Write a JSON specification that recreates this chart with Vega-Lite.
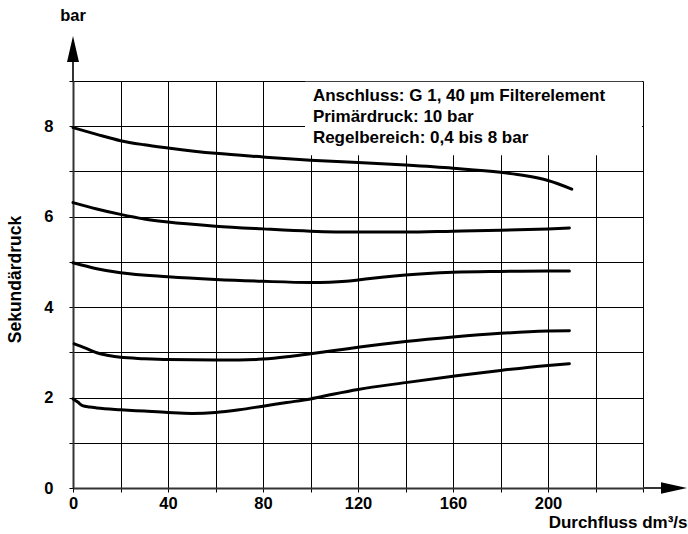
{
  "$schema": "https://vega.github.io/schema/vega-lite/v6.json",
  "width": 570,
  "height": 407,
  "autosize": "none",
  "padding": {"left": 73, "top": 81, "right": 45, "bottom": 46},
  "background": "white",
  "view": {"stroke": null},
  "config": {
    "font": "Liberation Sans",
    "axis": {
      "labelFont": "Liberation Sans",
      "labelFontWeight": "bold",
      "labelFontSize": 16.5,
      "labelColor": "black",
      "labelFlush": false,
      "titleFont": "Liberation Sans",
      "titleFontWeight": "bold",
      "titleFontSize": 17,
      "titleColor": "black",
      "gridColor": "#000",
      "gridOpacity": 1,
      "gridWidth": 1,
      "domainColor": "#333",
      "domainWidth": 2,
      "tickColor": "#000",
      "tickWidth": 1
    }
  },
  "datasets": {
    "curves": [
      {"series": "8", "x": 0, "y": 7.97},
      {"series": "8", "x": 10, "y": 7.82},
      {"series": "8", "x": 20, "y": 7.68},
      {"series": "8", "x": 30, "y": 7.59},
      {"series": "8", "x": 40, "y": 7.52},
      {"series": "8", "x": 60, "y": 7.40},
      {"series": "8", "x": 80, "y": 7.32},
      {"series": "8", "x": 100, "y": 7.25},
      {"series": "8", "x": 120, "y": 7.20},
      {"series": "8", "x": 140, "y": 7.14},
      {"series": "8", "x": 160, "y": 7.07},
      {"series": "8", "x": 180, "y": 6.98},
      {"series": "8", "x": 190, "y": 6.91},
      {"series": "8", "x": 200, "y": 6.80},
      {"series": "8", "x": 210, "y": 6.61},
      {"series": "6", "x": 0, "y": 6.31},
      {"series": "6", "x": 10, "y": 6.17},
      {"series": "6", "x": 20, "y": 6.05},
      {"series": "6", "x": 30, "y": 5.95},
      {"series": "6", "x": 40, "y": 5.88},
      {"series": "6", "x": 60, "y": 5.79},
      {"series": "6", "x": 80, "y": 5.73},
      {"series": "6", "x": 100, "y": 5.68},
      {"series": "6", "x": 120, "y": 5.66},
      {"series": "6", "x": 140, "y": 5.66},
      {"series": "6", "x": 160, "y": 5.68},
      {"series": "6", "x": 180, "y": 5.70},
      {"series": "6", "x": 200, "y": 5.73},
      {"series": "6", "x": 209, "y": 5.75},
      {"series": "5", "x": 0, "y": 4.98},
      {"series": "5", "x": 10, "y": 4.85},
      {"series": "5", "x": 20, "y": 4.76},
      {"series": "5", "x": 40, "y": 4.67},
      {"series": "5", "x": 60, "y": 4.61},
      {"series": "5", "x": 80, "y": 4.57},
      {"series": "5", "x": 100, "y": 4.545},
      {"series": "5", "x": 108, "y": 4.55},
      {"series": "5", "x": 115, "y": 4.57},
      {"series": "5", "x": 120, "y": 4.60},
      {"series": "5", "x": 130, "y": 4.66},
      {"series": "5", "x": 140, "y": 4.71},
      {"series": "5", "x": 160, "y": 4.77},
      {"series": "5", "x": 180, "y": 4.79},
      {"series": "5", "x": 200, "y": 4.80},
      {"series": "5", "x": 209, "y": 4.80},
      {"series": "3", "x": 0.5, "y": 3.19},
      {"series": "3", "x": 5, "y": 3.10},
      {"series": "3", "x": 10, "y": 2.99},
      {"series": "3", "x": 15, "y": 2.93},
      {"series": "3", "x": 20, "y": 2.89},
      {"series": "3", "x": 30, "y": 2.86},
      {"series": "3", "x": 40, "y": 2.84},
      {"series": "3", "x": 60, "y": 2.83},
      {"series": "3", "x": 70, "y": 2.83},
      {"series": "3", "x": 80, "y": 2.85},
      {"series": "3", "x": 90, "y": 2.90},
      {"series": "3", "x": 100, "y": 2.97},
      {"series": "3", "x": 110, "y": 3.04},
      {"series": "3", "x": 120, "y": 3.11},
      {"series": "3", "x": 130, "y": 3.18},
      {"series": "3", "x": 140, "y": 3.24},
      {"series": "3", "x": 160, "y": 3.34},
      {"series": "3", "x": 180, "y": 3.42},
      {"series": "3", "x": 200, "y": 3.47},
      {"series": "3", "x": 209, "y": 3.48},
      {"series": "2", "x": 0, "y": 1.97},
      {"series": "2", "x": 2, "y": 1.90},
      {"series": "2", "x": 4, "y": 1.82},
      {"series": "2", "x": 7, "y": 1.79},
      {"series": "2", "x": 10, "y": 1.77},
      {"series": "2", "x": 20, "y": 1.73},
      {"series": "2", "x": 30, "y": 1.70},
      {"series": "2", "x": 40, "y": 1.67},
      {"series": "2", "x": 50, "y": 1.65},
      {"series": "2", "x": 60, "y": 1.67},
      {"series": "2", "x": 70, "y": 1.73},
      {"series": "2", "x": 80, "y": 1.81},
      {"series": "2", "x": 90, "y": 1.89},
      {"series": "2", "x": 100, "y": 1.97},
      {"series": "2", "x": 110, "y": 2.08},
      {"series": "2", "x": 120, "y": 2.18},
      {"series": "2", "x": 140, "y": 2.33},
      {"series": "2", "x": 160, "y": 2.47},
      {"series": "2", "x": 180, "y": 2.60},
      {"series": "2", "x": 200, "y": 2.71},
      {"series": "2", "x": 209, "y": 2.75}
    ]
  },
  "layer": [
    {
      "data": {"name": "curves"},
      "mark": {"type": "line", "color": "black", "strokeWidth": 3, "interpolate": "monotone", "strokeCap": "round"},
      "encoding": {
        "x": {
          "field": "x", "type": "quantitative",
          "scale": {"domain": [0, 240], "nice": false, "zero": false},
          "axis": {
            "values": [0, 20, 40, 60, 80, 100, 120, 140, 160, 180, 200, 220, 240],
            "grid": true,
            "tickSize": 4,
            "labelPadding": 3,
            "labelExpr": "(datum.value % 40 === 0 && datum.value <= 200) ? datum.label : ''",
            "title": "Durchfluss dm³/s",
            "titleAlign": "right",
            "titleBaseline": "middle",
            "titleX": 614,
            "titleY": 34
          }
        },
        "y": {
          "field": "y", "type": "quantitative",
          "scale": {"domain": [0, 9], "nice": false, "zero": false},
          "axis": {
            "values": [0, 1, 2, 3, 4, 5, 6, 7, 8, 9],
            "grid": true,
            "tickSize": 4,
            "labelPadding": 16,
            "labelExpr": "(datum.value % 2 === 0) ? datum.label : ''",
            "title": "Sekundärdruck",
            "titleFontSize": 17.5,
            "titleAngle": -90,
            "titleAlign": "center",
            "titleBaseline": "middle",
            "titleX": -58,
            "titleY": 198
          }
        },
        "detail": {"field": "series"}
      }
    },
    {
      "data": {"values": [{}]},
      "mark": {"type": "rect", "fill": "white", "stroke": null},
      "encoding": {
        "x": {"datum": 97.7, "type": "quantitative"},
        "x2": {"datum": 239.6},
        "y": {"datum": 7.36, "type": "quantitative"},
        "y2": {"datum": 8.985}
      }
    },
    {
      "data": {"values": [{}]},
      "mark": {"type": "rule", "color": "#333", "strokeWidth": 2},
      "encoding": {
        "x": {"datum": 240, "type": "quantitative"},
        "x2": {"datum": 250},
        "y": {"datum": 0, "type": "quantitative"}
      }
    },
    {
      "data": {"values": [{}]},
      "mark": {"type": "rule", "color": "#333", "strokeWidth": 2},
      "encoding": {
        "x": {"datum": 0, "type": "quantitative"},
        "y": {"datum": 9, "type": "quantitative"},
        "y2": {"datum": 9.6}
      }
    },
    {
      "data": {"values": [{}]},
      "mark": {"type": "point", "filled": true, "color": "black", "opacity": 1, "size": 676, "shape": "M0,-1L0.46,1L-0.46,1Z"},
      "encoding": {
        "x": {"datum": 0, "type": "quantitative"},
        "y": {"datum": 9.71, "type": "quantitative"}
      }
    },
    {
      "data": {"values": [{}]},
      "mark": {"type": "point", "filled": true, "color": "black", "opacity": 1, "size": 676, "shape": "M1,0L-1,-0.45L-1,0.45Z"},
      "encoding": {
        "x": {"datum": 253.05, "type": "quantitative"},
        "y": {"datum": 0, "type": "quantitative"}
      }
    },
    {
      "data": {"values": [{}]},
      "mark": {"type": "text", "text": "bar", "font": "Liberation Sans", "fontWeight": "bold", "fontSize": 16.5, "align": "center", "baseline": "middle", "color": "black"},
      "encoding": {
        "x": {"datum": 0, "type": "quantitative"},
        "y": {"datum": 10.44, "type": "quantitative"}
      }
    },
    {
      "data": {"values": [{}]},
      "mark": {"type": "text", "text": ["Anschluss: G 1, 40 µm Filterelement", "Primärdruck: 10 bar", "Regelbereich: 0,4 bis 8 bar"], "lineHeight": 21, "font": "Liberation Sans", "fontWeight": "bold", "fontSize": 17, "align": "left", "baseline": "middle", "color": "black"},
      "encoding": {
        "x": {"datum": 101, "type": "quantitative"},
        "y": {"datum": 8.67, "type": "quantitative"}
      }
    }
  ]
}
